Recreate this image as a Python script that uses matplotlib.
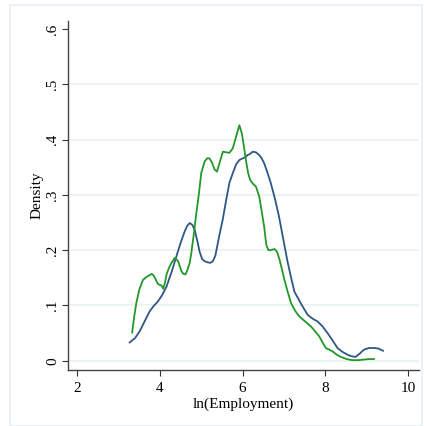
import matplotlib
matplotlib.use("Agg")
import matplotlib.pyplot as plt
from matplotlib.patches import Rectangle

# kernel density curves
blue_x = [3.27, 3.40, 3.51, 3.63, 3.75, 3.85, 3.95, 4.05, 4.16, 4.28, 4.40, 4.50, 4.60, 4.66,
          4.72, 4.78, 4.84, 4.90, 4.96, 5.02, 5.08, 5.15, 5.22, 5.28, 5.34, 5.44, 5.52, 5.60,
          5.68, 5.76, 5.84, 5.92, 6.00, 6.06, 6.12, 6.18, 6.24, 6.32, 6.40, 6.46, 6.52, 6.60,
          6.68, 6.78, 6.88, 6.98, 7.09, 7.17, 7.25, 7.41, 7.57, 7.69, 7.81, 7.93, 8.05, 8.17,
          8.29, 8.41, 8.53, 8.63, 8.73, 8.83, 8.93, 9.05, 9.17, 9.28, 9.39]
blue_y = [0.033, 0.041, 0.053, 0.071, 0.089, 0.099, 0.107, 0.118, 0.134, 0.160, 0.189, 0.213,
          0.234, 0.244, 0.249, 0.246, 0.237, 0.218, 0.197, 0.184, 0.180, 0.178, 0.177, 0.180,
          0.190, 0.228, 0.256, 0.290, 0.322, 0.339, 0.355, 0.363, 0.366, 0.368, 0.372, 0.374,
          0.378, 0.377, 0.372, 0.366, 0.357, 0.340, 0.321, 0.293, 0.260, 0.220, 0.177, 0.150,
          0.125, 0.103, 0.083, 0.076, 0.071, 0.062, 0.050, 0.037, 0.023, 0.016, 0.011, 0.008,
          0.007, 0.013, 0.020, 0.023, 0.023, 0.022, 0.018]

green_x = [3.33, 3.38, 3.43, 3.50, 3.59, 3.65, 3.71, 3.76, 3.80, 3.84, 3.88, 3.95, 4.00, 4.04,
           4.08, 4.12, 4.16, 4.22, 4.28, 4.36, 4.44, 4.52, 4.57, 4.62, 4.67, 4.72, 4.76, 4.83,
           4.88, 4.94, 5.00, 5.08, 5.14, 5.20, 5.26, 5.32, 5.38, 5.45, 5.52, 5.60, 5.68, 5.76,
           5.84, 5.92, 5.98, 6.03, 6.08, 6.13, 6.18, 6.25, 6.32, 6.40, 6.46, 6.52, 6.57, 6.62,
           6.67, 6.72, 6.77, 6.83, 6.89, 6.95, 7.01, 7.09, 7.17, 7.27, 7.37, 7.51, 7.65, 7.75,
           7.85, 7.93, 8.01, 8.09, 8.17, 8.27, 8.37, 8.51, 8.65, 8.79, 8.93, 9.05, 9.17]
green_y = [0.051, 0.080, 0.104, 0.128, 0.146, 0.150, 0.153, 0.155, 0.157, 0.155, 0.150, 0.139,
           0.137, 0.136, 0.130, 0.140, 0.156, 0.168, 0.177, 0.186, 0.180, 0.162, 0.157, 0.156,
           0.165, 0.177, 0.195, 0.235, 0.267, 0.300, 0.340, 0.360, 0.366, 0.366, 0.358, 0.346,
           0.342, 0.360, 0.378, 0.377, 0.376, 0.384, 0.405, 0.426, 0.411, 0.388, 0.362, 0.340,
           0.327, 0.320, 0.315, 0.297, 0.270, 0.242, 0.210, 0.200, 0.200, 0.201, 0.202, 0.197,
           0.183, 0.165, 0.146, 0.124, 0.104, 0.090, 0.080, 0.071, 0.062, 0.053, 0.044, 0.033,
           0.023, 0.020, 0.017, 0.011, 0.007, 0.003, 0.001, 0.001, 0.002, 0.003, 0.003]

x_ticks = [2, 4, 6, 8, 10]
y_ticks = [0, 0.1, 0.2, 0.3, 0.4, 0.5, 0.6]
y_labels = ["0", ".1", ".2", ".3", ".4", ".5", ".6"]

plt.rcParams["font.family"] = ["Liberation Serif", "DejaVu Serif"]

fig = plt.figure(figsize=(4.24, 4.26), dpi=100)
fig.patch.set_facecolor("white")
# light outer frame of the graph region
fig.patches.append(Rectangle((10 / 424, 0), 412 / 424, 1 - 5 / 426, transform=fig.transFigure,
                             fill=False, edgecolor="#e6eef1", linewidth=1.2))

ax = fig.add_axes([68 / 424, 1 - 370 / 426, 351 / 424, 349.3 / 426])

for v in y_ticks[:-1]:
    ax.axhline(v, color="#eaf1f3", linewidth=1.2, zorder=0)

ax.plot(blue_x, blue_y, color="#2e5784", linewidth=1.3)
ax.plot(green_x, green_y, color="#23982a", linewidth=1.3)

ax.set_xlim(1.78, 10.26)
ax.set_ylim(-0.0168, 0.615)
ax.set_xticks(x_ticks)
ax.set_yticks(y_ticks)
ax.set_yticklabels(y_labels, rotation=90, va="center")
ax.tick_params(axis="both", length=4.5, width=0.8, color="#333333", labelsize=11)
ax.tick_params(axis="x", pad=4.5)
ax.tick_params(axis="y", pad=2)

for side in ["top", "right"]:
    ax.spines[side].set_visible(False)
for side in ["left", "bottom"]:
    ax.spines[side].set_color("#444444")
    ax.spines[side].set_linewidth(1.0)

ax.set_xlabel("ln(Employment)", fontsize=11, labelpad=1.5)
ax.set_ylabel("Density", fontsize=11, labelpad=2)

fig.savefig("out.png", dpi=100)
